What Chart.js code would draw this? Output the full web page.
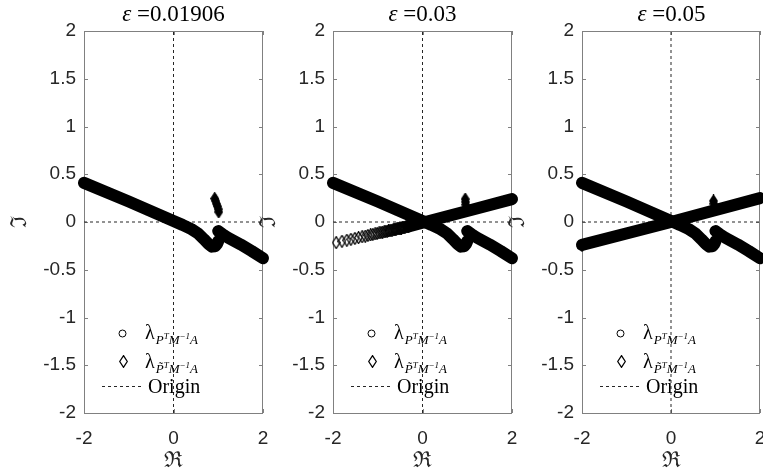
<!DOCTYPE html>
<html>
<head>
<meta charset="utf-8">
<script src="https://cdn.jsdelivr.net/npm/chart.js@4.4.1/dist/chart.umd.min.js"></script>
<style>
  html, body { margin: 0; padding: 0; background: #fff; }
  #fig { position: relative; width: 763px; height: 474px; overflow: hidden; }
  #fig canvas { position: absolute; top: 0; }
  .title {
    position: absolute; top: 1px; width: 179px; text-align: center;
    font: 23px "Liberation Serif", serif; line-height: 26px; color: #000; white-space: nowrap;
  }
  .title i { font-style: italic; }
  .leg {
    position: absolute; font-family: "Liberation Serif", serif; font-size: 20px;
    line-height: 20px; color: #000; white-space: nowrap;
  }
  .leg .sub { font-size: 13px; font-style: italic; position: relative; top: 5px; margin-left: 1px; }
  .leg .sup { font-size: 9px; font-style: italic; position: relative; top: -5px; }
</style>
</head>
<body>
<div id="fig"></div>
<script>
// ---- data ----
const epsilons = ["0.01906", "0.03", "0.05"];
const xTicks = [-2, 0, 2];
const yTicks = [-2, -1.5, -1, -0.5, 0, 0.5, 1, 1.5, 2];

// lambda of P^T M^-1 A (identical in all three panels), two branches
const lamAX = [-2, -1, 0, 0.2, 0.4, 0.55, 0.68, 0.78, 0.86, 0.93, 0.98, 1.0];
const lamAY = [0.41, 0.215, 0.01, -0.03, -0.075, -0.12, -0.18, -0.23, -0.258, -0.255, -0.225, -0.2];
const lamBX = [1.0, 1.1, 1.22, 1.5, 1.75, 2.0];
const lamBY = [-0.095, -0.13, -0.165, -0.235, -0.305, -0.38];

// lambda of P~^T M^-1 A, eps = 0.01906: small cluster
const tilde1X = [0.92, 0.94, 0.96, 0.98, 1.0, 1.01];
const tilde1Y = [0.245, 0.22, 0.19, 0.165, 0.135, 0.105];

// eps = 0.03: open diamonds on the left, dense band on the right, small spike
const tilde2OpenX = [-1.93, -1.80, -1.69, -1.60, -1.51, -1.43, -1.35, -1.28, -1.22, -1.16,
  -1.11, -1.06, -1.015, -0.97, -0.93, -0.89, -0.855, -0.82, -0.79, -0.76,
  -0.73, -0.705, -0.68, -0.655, -0.63, -0.61, -0.59, -0.57, -0.55, -0.53,
  -0.51, -0.49, -0.47, -0.45, -0.43, -0.41, -0.39, -0.37, -0.35, -0.33, -0.31];
const tilde2OpenY = [-0.216, -0.202, -0.191, -0.181, -0.172, -0.164, -0.155, -0.148, -0.141, -0.135,
  -0.130, -0.125, -0.120, -0.115, -0.111, -0.107, -0.103, -0.099, -0.096, -0.093,
  -0.090, -0.087, -0.085, -0.082, -0.079, -0.077, -0.075, -0.073, -0.071, -0.069,
  -0.067, -0.065, -0.063, -0.061, -0.058, -0.056, -0.054, -0.052, -0.050, -0.048, -0.046];
const tilde2BandX = [-0.31, 0, 1, 2];
const tilde2BandY = [-0.046, -0.008, 0.115, 0.24];
const tilde2SpikeX = [0.955, 0.96, 0.965];
const tilde2SpikeY = [0.24, 0.21, 0.18];

// eps = 0.05: dense band end to end, small spike
const tilde3BandX = [-2, 0, 2];
const tilde3BandY = [-0.24, 0, 0.25];
const tilde3TipX = [-2];
const tilde3TipY = [-0.245];
const tilde3SpikeX = [0.955, 0.96];
const tilde3SpikeY = [0.22, 0.19];

// ---- helpers ----
const pts = (xs, ys) => xs.map((x, i) => ({ x, y: ys[i] }));

function diamondImage(filled) {
  const c = document.createElement("canvas");
  c.width = 9; c.height = 13;
  const g = c.getContext("2d");
  g.beginPath();
  g.moveTo(4.5, 0.7); g.lineTo(8.3, 6.5); g.lineTo(4.5, 12.3); g.lineTo(0.7, 6.5);
  g.closePath();
  if (filled) { g.fillStyle = "#000"; g.fill(); }
  g.strokeStyle = "#000"; g.lineWidth = 1.3; g.stroke();
  return c;
}
const openDiamond = diamondImage(false);
const solidDiamond = diamondImage(true);

const band = (data) => ({
  data, showLine: true, borderColor: "#000", borderWidth: 12,
  borderCapStyle: "round", borderJoinStyle: "round",
  pointRadius: 0, clip: false, order: 1,
});
const marks = (data, img) => ({
  data, showLine: false, pointStyle: img, pointRadius: 5, clip: false, order: 0,
});
const originLine = (data) => ({
  data, showLine: true, borderColor: "#262626", borderWidth: 1, borderDash: [3, 3],
  pointRadius: 0, order: 10,
});

const boxPlugin = {
  id: "box",
  beforeDatasetsDraw(chart) {
    const { ctx, chartArea: a, scales: { x, y } } = chart;
    ctx.save();
    ctx.strokeStyle = "#808080";
    ctx.lineWidth = 1;
    ctx.strokeRect(a.left + 0.5, a.top + 0.5, a.right - a.left - 1, a.bottom - a.top);
    ctx.beginPath();
    const tl = 4;
    yTicks.forEach(v => {
      const py = Math.round(y.getPixelForValue(v)) + 0.5;
      ctx.moveTo(a.left, py); ctx.lineTo(a.left + tl, py);
      ctx.moveTo(a.right, py); ctx.lineTo(a.right - tl, py);
    });
    xTicks.forEach(v => {
      const px = Math.round(x.getPixelForValue(v)) + 0.5;
      ctx.moveTo(px, a.top); ctx.lineTo(px, a.top + tl);
      ctx.moveTo(px, a.bottom); ctx.lineTo(px, a.bottom - tl);
    });
    ctx.stroke();
    ctx.restore();
  },
  afterDraw(chart) {
    // legend symbols (text is HTML on top)
    const { ctx, chartArea: a } = chart;
    ctx.save();
    ctx.strokeStyle = "#000";
    ctx.lineWidth = 1;
    ctx.beginPath();
    ctx.arc(a.left + 38.5, 333.5, 3.5, 0, Math.PI * 2);
    ctx.stroke();
    ctx.drawImage(openDiamond, Math.round(a.left + 39 - 4.5), 361 - 6);
    ctx.setLineDash([3, 3]);
    ctx.strokeStyle = "#262626";
    ctx.beginPath();
    ctx.moveTo(a.left + 18, 386.5); ctx.lineTo(a.left + 60, 386.5);
    ctx.stroke();
    ctx.restore();
  },
};

// the last canvas runs past the figure edge, so its "2" gets cut like the original
const panels = [
  { left: 0, width: 283, tilde: [marks(pts(tilde1X, tilde1Y), solidDiamond)] },
  { left: 249, width: 283, tilde: [
      marks(pts(tilde2OpenX, tilde2OpenY), openDiamond),
      band(pts(tilde2BandX, tilde2BandY)),
      marks(pts(tilde2SpikeX, tilde2SpikeY), solidDiamond)] },
  { left: 498, width: 282, tilde: [
      band(pts(tilde3BandX, tilde3BandY)),
      marks(pts(tilde3TipX, tilde3TipY), solidDiamond),
      marks(pts(tilde3SpikeX, tilde3SpikeY), solidDiamond)] },
];

const fig = document.getElementById("fig");
const tickFont = { family: "Liberation Sans", size: 19 };
const labelFont = { family: "DejaVu Serif", size: 22 };

panels.forEach((p, i) => {
  const canvas = document.createElement("canvas");
  canvas.width = p.width; canvas.height = 474;
  canvas.style.left = p.left + "px";
  fig.appendChild(canvas);

  const plotLeft = p.left + 84;

  new Chart(canvas.getContext("2d"), {
    type: "scatter",
    data: {
      datasets: [
        originLine([{ x: -2, y: 0 }, { x: 2, y: 0 }]),
        originLine([{ x: 0, y: -2 }, { x: 0, y: 2 }]),
        band(pts(lamAX, lamAY)),
        band(pts(lamBX, lamBY)),
        ...p.tilde,
      ],
    },
    options: {
      responsive: false,
      animation: false,
      devicePixelRatio: 1,
      events: [],
      layout: { autoPadding: false, padding: { top: 31, bottom: 0, left: 0, right: 20 } },
      plugins: { legend: { display: false }, tooltip: { enabled: false } },
      scales: {
        x: {
          type: "linear", min: -2, max: 2,
          grid: { display: false, drawTicks: false }, border: { display: false },
          ticks: { stepSize: 2, font: tickFont, color: "#262626", padding: 14, maxRotation: 0, autoSkip: false,
                   callback: v => String(v) },
          title: { display: true, text: "\u211C", font: labelFont, color: "#262626", padding: { top: 0, bottom: 0 } },
          afterFit: s => { s.height = 61; },
        },
        y: {
          type: "linear", min: -2, max: 2,
          grid: { display: false, drawTicks: false }, border: { display: false },
          ticks: { stepSize: 0.5, font: tickFont, color: "#262626", padding: 8, autoSkip: false,
                   callback: v => String(v) },
          title: { display: true, text: "\u2111", font: labelFont, color: "#262626", padding: { top: 7, bottom: 0 } },
          afterFit: s => { s.width = 84; },
        },
      },
    },
    plugins: [boxPlugin],
  });

  const t = document.createElement("div");
  t.className = "title";
  t.style.left = plotLeft + "px";
  t.innerHTML = "<i>\u03B5</i> =" + epsilons[i];
  fig.appendChild(t);

  const rows = [
    { top: 322, html: "\u03BB<span class='sub'>P<span class='sup'>T</span>M<span class='sup'>\u22121</span>A</span>" },
    { top: 351, html: "\u03BB<span class='sub'>P\u0303<span class='sup'>T</span>M<span class='sup'>\u22121</span>A</span>" },
    { top: 376, html: "Origin", left: 64 },
  ];
  rows.forEach(r => {
    const d = document.createElement("div");
    d.className = "leg";
    d.style.left = (plotLeft + (r.left || 61)) + "px";
    d.style.top = r.top + "px";
    d.innerHTML = r.html;
    fig.appendChild(d);
  });
});
</script>
</body>
</html>
